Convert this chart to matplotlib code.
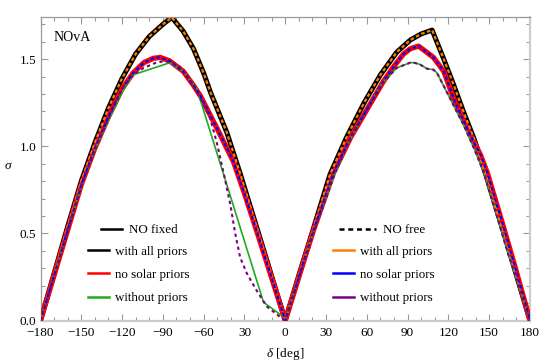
import matplotlib
matplotlib.use("Agg")
import matplotlib.pyplot as plt
from matplotlib.lines import Line2D
from matplotlib.ticker import MultipleLocator, FixedLocator, FixedFormatter

plt.rcParams['font.family'] = ['Liberation Serif', 'DejaVu Serif']
plt.rcParams['mathtext.fontset'] = 'custom'
plt.rcParams['mathtext.it'] = 'Liberation Serif:italic'
plt.rcParams['mathtext.rm'] = 'Liberation Serif'

# ---------------- data ----------------
# NO fixed, with all priors (black) / NO free, with all priors (orange)
d_all = [-180, -170, -160, -150, -140, -130, -120, -110, -100, -90, -83.5,
         -75, -67.5, -60, -55, -43, -33, -20, -10, 0,
         10, 20, 33, 45, 58, 70, 82, 92, 100, 108,
         116.6, 124, 131, 139, 147, 160, 170, 180]
s_fixed_all = [0.0, 0.27, 0.54, 0.80, 1.02, 1.22, 1.39, 1.53, 1.63, 1.70, 1.74,
               1.66, 1.56, 1.42, 1.31, 1.08, 0.84, 0.51, 0.255, 0.0,
               0.26, 0.51, 0.84, 1.05, 1.25, 1.41, 1.54, 1.61, 1.645, 1.667,
               1.50, 1.35, 1.20, 1.04, 0.85, 0.52, 0.26, 0.0]
s_free_all = s_fixed_all

# no solar priors: red (fixed) / blue (free)
d_nosolar = [-180, -170, -160, -150, -140, -130, -120, -112, -104, -97, -92,
             -85, -75, -67.5, -62.5, -50, -38, -30, -20, -10, 0,
             10, 20, 35.6, 48, 60, 72, 80, 87, 92, 98,
             104, 109, 116.6, 124, 134, 143.6, 148.5, 160, 170, 180]
s_fixed_nosolar = [0.0, 0.26, 0.52, 0.78, 0.99, 1.17, 1.33, 1.42, 1.48, 1.505, 1.51,
                   1.49, 1.43, 1.35, 1.29, 1.10, 0.91, 0.73, 0.49, 0.245, 0.0,
                   0.25, 0.50, 0.85, 1.05, 1.21, 1.37, 1.46, 1.53, 1.56, 1.575,
                   1.54, 1.51, 1.43, 1.27, 1.10, 0.95, 0.85, 0.55, 0.28, 0.0]
s_free_nosolar = s_fixed_nosolar

# without priors: green (fixed)
d_fixed_nop = [-180, -170, -160, -150, -140, -130, -120, -112, -84.7, -75, -65,
               -16, -1.2, 0,
               10, 20, 36.8, 47, 57.7, 70, 82, 92, 94.5, 99, 104.3, 109, 111.7,
               121.5, 131.3, 138.7, 146, 165.7, 180]
s_fixed_nop = [0.0, 0.26, 0.52, 0.77, 0.98, 1.15, 1.31, 1.41, 1.48, 1.43, 1.33,
               0.105, 0.02, 0.0,
               0.25, 0.49, 0.85, 1.03, 1.18, 1.35, 1.45, 1.48, 1.48, 1.47, 1.445, 1.44, 1.42,
               1.27, 1.12, 0.99, 0.85, 0.345, 0.0]

# without priors: purple (free)
d_free_nop = [-180, -170, -160, -150, -140, -130, -120, -112, -104, -95, -88,
              -80, -75, -62.6, -55.2, -50.3, -45.4, -40.5, -36.8, -33.1, -28.2,
              -20.9, -13.5, -3.7, 0,
              10, 20, 36.8, 47, 57.7, 70, 82, 92, 94.5, 99, 104.3, 109, 111.7,
              121.5, 131.3, 138.7, 146, 164.4, 165.7, 180]
s_free_nop = [0.0, 0.26, 0.52, 0.77, 0.98, 1.16, 1.33, 1.41, 1.45, 1.48, 1.49,
              1.47, 1.44, 1.28, 1.16, 1.02, 0.85, 0.67, 0.50, 0.36, 0.27,
              0.17, 0.08, 0.02, 0.0,
              0.25, 0.49, 0.85, 1.03, 1.18, 1.35, 1.45, 1.48, 1.48, 1.47, 1.445, 1.44, 1.42,
              1.27, 1.12, 0.99, 0.85, 0.37, 0.345, 0.0]

xticks = [-180, -150, -120, -90, -60, -30, 0, 30, 60, 90, 120, 150, 180]
xticklabels = ["\u2212180", "\u2212150", "\u2212120", "\u221290", "\u221260", "30",
               "0", "30", "60", "90", "120", "150", "180"]
yticks = [0.0, 0.5, 1.0, 1.5]
yticklabels = ["0.0", "0.5", "1.0", "1.5"]

c_black = "#000000"
c_orange = "#FF8000"
c_red = "#FF0000"
c_blue = "#0000FF"
c_green = "#1FAA1F"
c_purple = "#800080"

# ---------------- figure ----------------
fig = plt.figure(figsize=(5.4, 3.63), dpi=100)
ax = fig.add_axes([40.5/540, 1-320.5/363, (530-40.5)/540, (320.5-17)/363])

ax.plot(d_all, s_fixed_all, color=c_black, lw=3.6, solid_joinstyle='round', zorder=2)
ax.plot(d_nosolar, s_fixed_nosolar, color=c_red, lw=3.8, solid_joinstyle='round', zorder=3)
ax.plot(d_fixed_nop, s_fixed_nop, color=c_green, lw=1.2, zorder=4)
ax.plot(d_all, s_free_all, color=c_orange, lw=1.6, dashes=(1.6, 1.1), zorder=5)
ax.plot(d_nosolar, s_free_nosolar, color=c_blue, lw=1.6, dashes=(1.6, 1.1), zorder=6)
ax.plot(d_free_nop, s_free_nop, color=c_purple, lw=1.5, dashes=(1.6, 1.6), zorder=7)

ax.set_xlim(-180, 180)
ax.set_ylim(0, 1.742)
ax.xaxis.set_major_locator(FixedLocator(xticks))
ax.xaxis.set_major_formatter(FixedFormatter(xticklabels))
ax.xaxis.set_minor_locator(MultipleLocator(10))
ax.yaxis.set_major_locator(FixedLocator(yticks))
ax.yaxis.set_major_formatter(FixedFormatter(yticklabels))
ax.yaxis.set_minor_locator(MultipleLocator(0.1))

ax.tick_params(which='both', direction='in', top=True, right=True, color='#999999',
               labelsize=9.5, width=0.8)
ax.tick_params(axis='x', which='both', pad=5)
ax.tick_params(axis='y', which='both', pad=3)
ax.tick_params(which='major', length=5)
ax.tick_params(which='minor', length=3)

for side in ['left', 'top']:
    ax.spines[side].set_color('#999999')
    ax.spines[side].set_linewidth(0.9)
for side in ['bottom', 'right']:
    ax.spines[side].set_color('#cccccc')
    ax.spines[side].set_linewidth(1.6)

ax.set_xlabel(r'$\delta$ [deg]', fontsize=9.5, labelpad=5)
ax.set_ylabel(r'$\sigma$', fontsize=9.5, rotation=0)
ax.yaxis.set_label_coords(-0.066, 0.49)

ax.text(0.027, 0.955, "NOvA", transform=ax.transAxes, fontsize=10, va='top', ha='left')

# ---------------- legends ----------------
leg_kw = dict(frameon=False, fontsize=9.4, handlelength=1.6, handletextpad=0.5,
              labelspacing=0.86, borderaxespad=0, borderpad=0)

h1 = [Line2D([], [], color=c_black, lw=1.8)]
L1 = ax.legend(h1, ["NO fixed"], loc='upper left', bbox_to_anchor=(0.124, 0.318), **leg_kw)
ax.add_artist(L1)
h2 = [Line2D([], [], color=c_black, lw=1.8),
      Line2D([], [], color=c_red, lw=1.8),
      Line2D([], [], color=c_green, lw=1.8)]
L2 = ax.legend(h2, ["with all priors", "no solar priors", "without priors"],
               loc='upper left', bbox_to_anchor=(0.097, 0.247), **leg_kw)
ax.add_artist(L2)

h3 = [Line2D([], [], color=c_black, lw=1.8, dashes=(2, 1.5))]
L3 = ax.legend(h3, ["NO free"], loc='upper left', bbox_to_anchor=(0.61, 0.318),
               **dict(leg_kw, handlelength=2.85))
ax.add_artist(L3)
h4 = [Line2D([], [], color=c_orange, lw=1.8),
      Line2D([], [], color=c_blue, lw=1.8),
      Line2D([], [], color=c_purple, lw=1.8)]
L4 = ax.legend(h4, ["with all priors", "no solar priors", "without priors"],
               loc='upper left', bbox_to_anchor=(0.597, 0.247), **leg_kw)

fig.savefig("out.png", dpi=100)
